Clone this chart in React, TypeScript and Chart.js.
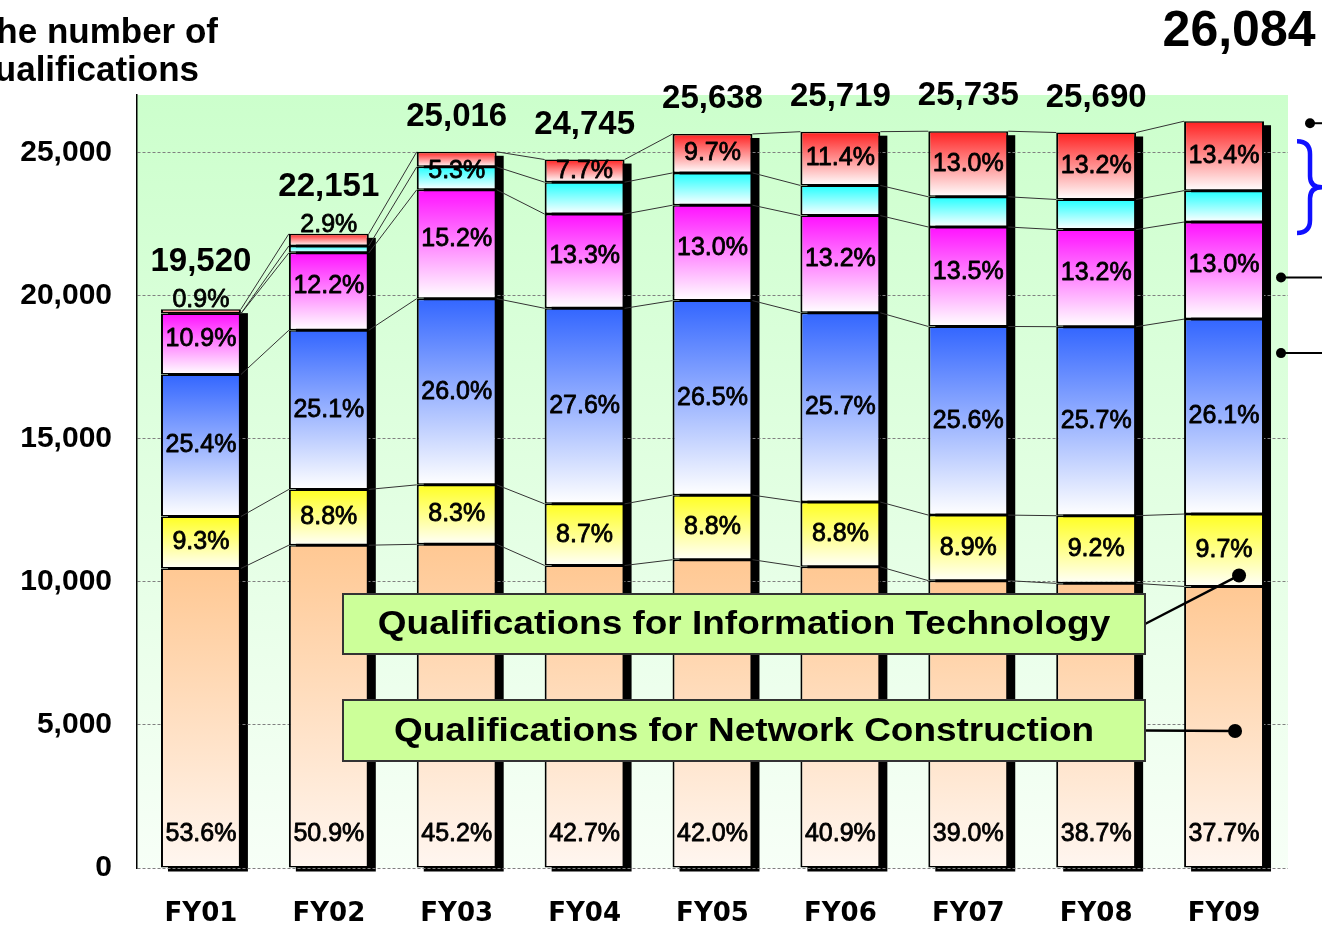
import React, { useEffect, useRef } from 'react';
import { Chart, registerables } from 'chart.js';

Chart.register(...registerables);

// ---------------- data ----------------
const categories = ['FY01', 'FY02', 'FY03', 'FY04', 'FY05', 'FY06', 'FY07', 'FY08', 'FY09'];
const totals = [19520, 22151, 25016, 24745, 25638, 25719, 25735, 25690, 26084];

// segment counts (bottom -> top)
const networkCounts = [10463, 11275, 11307, 10566, 10768, 10519, 10037, 9942, 9834];
const itCounts = [1815, 1949, 2076, 2153, 2256, 2263, 2290, 2363, 2530];
const blueCounts = [4958, 5560, 6504, 6830, 6794, 6610, 6588, 6602, 6808];
const magentaCounts = [2128, 2702, 3802, 3291, 3333, 3395, 3474, 3391, 3391];
const cyanCounts = [0, 244, 801, 1114, 1128, 1054, 1055, 1053, 1096];
const redCounts = [156, 421, 526, 791, 1359, 1878, 2291, 2339, 2425];

// share labels as printed
const networkPct = [53.6, 50.9, 45.2, 42.7, 42.0, 40.9, 39.0, 38.7, 37.7];
const itPct = [9.3, 8.8, 8.3, 8.7, 8.8, 8.8, 8.9, 9.2, 9.7];
const bluePct = [25.4, 25.1, 26.0, 27.6, 26.5, 25.7, 25.6, 25.7, 26.1];
const magentaPct = [10.9, 12.2, 15.2, 13.3, 13.0, 13.2, 13.5, 13.2, 13.0];
const topPct = [0.9, 2.9, 5.3, 7.7, 9.7, 11.4, 13.0, 13.2, 13.4];

const yTicks = [0, 5000, 10000, 15000, 20000, 25000];

const titleLines = ['The number of', 'qualifications'];
const legendIT = 'Qualifications for Information Technology';
const legendNC = 'Qualifications for Network Construction';

// ---------------- styles ----------------
const SEG_STYLES = [
  { top: '#FFC893', bottom: '#FFF6F0' },
  { top: '#FFFF22', bottom: '#FFFFF8' },
  { top: '#3366FF', bottom: '#FFFFFF' },
  { top: '#FF11FF', bottom: '#FFFFFF' },
  { top: '#22FFFF', bottom: '#FFFFFF' },
  { top: '#FF2020', bottom: '#FFFFFF' },
];

const NUM_FONT = '"Liberation Sans", Arial, sans-serif';

function segGradient(dsIndex: number) {
  return (c: any) => {
    const st = SEG_STYLES[dsIndex];
    const chart = c.chart;
    const ys = chart.scales && chart.scales.y;
    if (!ys || !chart.chartArea || c.dataIndex == null) return st.top;
    const dsets = chart.data.datasets;
    let start = 0;
    for (let k = 0; k < dsIndex; k++) start += Number(dsets[k].data[c.dataIndex]) || 0;
    const end = start + (Number(dsets[dsIndex].data[c.dataIndex]) || 0);
    const y0 = ys.getPixelForValue(end);
    const y1 = ys.getPixelForValue(start);
    if (!(y1 > y0 + 0.5)) return st.top;
    const g = chart.ctx.createLinearGradient(0, y0, 0, y1);
    g.addColorStop(0, st.top);
    g.addColorStop(1, st.bottom);
    return g;
  };
}

const fmtPct = (v: number) => v.toFixed(1) + '%';

function heavyText(ctx: any, text: string, x: number, y: number, w: number) {
  ctx.lineWidth = w;
  ctx.strokeStyle = '#000';
  ctx.lineJoin = 'round';
  ctx.strokeText(text, x, y);
  ctx.fillText(text, x, y);
}

// ---------------- plugins ----------------
const backgroundPlugin = {
  id: 'bgShadow',
  beforeDraw(chart: any) {
    const { ctx, chartArea: a } = chart;
    ctx.save();
    ctx.fillStyle = '#FFFFFF';
    ctx.fillRect(0, 0, chart.width, chart.height);
    const g = ctx.createLinearGradient(0, a.top, 0, a.bottom);
    g.addColorStop(0, '#CCFFCC');
    g.addColorStop(1, '#F7FFF7');
    ctx.fillStyle = g;
    ctx.fillRect(a.left, a.top, a.right - a.left, a.bottom - a.top);

    // drop shadows behind stacks
    const n = chart.data.labels.length;
    const metas = chart.data.datasets.map((_: any, i: number) => chart.getDatasetMeta(i));
    ctx.fillStyle = '#000000';
    for (let j = 0; j < n; j++) {
      const b = metas[0].data[j];
      if (!b) continue;
      let top = Infinity;
      metas.forEach((m: any) => {
        const el = m.data[j];
        if (el) top = Math.min(top, el.y);
      });
      const w = b.width;
      ctx.fillRect(b.x - w / 2 + 7, top + 4, w, b.base - top);
    }
    ctx.restore();
  },
};

const overlayPlugin = {
  id: 'overlay',
  afterDatasetsDraw(chart: any) {
    const { ctx } = chart;
    const n = chart.data.labels.length;
    const metas = chart.data.datasets.map((_: any, i: number) => chart.getDatasetMeta(i));
    ctx.save();
    // connector lines
    ctx.strokeStyle = '#333333';
    ctx.lineWidth = 1;
    metas.forEach((m: any) => {
      for (let j = 0; j < n - 1; j++) {
        const a = m.data[j];
        const b = m.data[j + 1];
        ctx.beginPath();
        ctx.moveTo(a.x + a.width / 2, a.y);
        ctx.lineTo(b.x - b.width / 2, b.y);
        ctx.stroke();
      }
    });

    // percentage labels
    ctx.fillStyle = '#000000';
    ctx.textAlign = 'center';
    ctx.textBaseline = 'middle';
    ctx.font = `25px ${NUM_FONT}`;
    const sw = 0.8;
    const aboveTop: boolean[] = [];
    for (let j = 0; j < n; j++) {
      const e0 = metas[0].data[j];
      const e1 = metas[1].data[j];
      const e2 = metas[2].data[j];
      const e3 = metas[3].data[j];
      const e4 = metas[4].data[j];
      const e5 = metas[5].data[j];
      heavyText(ctx, fmtPct(networkPct[j]), e0.x, e0.base - 33, sw);
      heavyText(ctx, fmtPct(itPct[j]), e1.x, (e1.y + e1.base) / 2, sw);
      heavyText(ctx, fmtPct(bluePct[j]), e2.x, (e2.y + e2.base) / 2, sw);
      heavyText(ctx, fmtPct(magentaPct[j]), e3.x, (e3.y + e3.base) / 2 - 5, sw);
      const redH = e5.base - e5.y;
      const combH = e4.base - e5.y;
      let ty: number;
      let above = false;
      if (redH >= 20) ty = (e5.y + e5.base) / 2;
      else if (combH >= 30) ty = (e5.y + e4.base) / 2;
      else {
        ty = e5.y - 9;
        above = true;
      }
      aboveTop.push(above);
      heavyText(ctx, fmtPct(topPct[j]), e5.x, ty, sw);
    }

    // totals
    for (let j = 0; j < n; j++) {
      const e5 = metas[5].data[j];
      const label = totals[j].toLocaleString('en-US');
      if (j === n - 1) {
        ctx.font = `bold 50px ${NUM_FONT}`;
        ctx.fillText(label, e5.x + 15, e5.y - 89);
      } else {
        ctx.font = `bold 33px ${NUM_FONT}`;
        ctx.fillText(label, e5.x, e5.y - (aboveTop[j] ? 47 : 35));
      }
    }
    ctx.restore();
  },
  afterDraw(chart: any) {
    const { ctx } = chart;
    const n = chart.data.labels.length;
    const metas = chart.data.datasets.map((_: any, i: number) => chart.getDatasetMeta(i));
    const last = n - 1;
    const eNet = metas[0].data[last];
    const eIT = metas[1].data[last];
    const eBlue = metas[2].data[last];
    const eMag = metas[3].data[last];
    const eCy = metas[4].data[last];
    const eRed = metas[5].data[last];
    const barRight = eRed.x + eRed.width / 2;
    ctx.save();

    // title (cut at left edge)
    ctx.fillStyle = '#000';
    ctx.font = `bold 35px ${NUM_FONT}`;
    ctx.textAlign = 'right';
    ctx.textBaseline = 'alphabetic';
    ctx.fillText(titleLines[0], 218, 43);
    ctx.fillText(titleLines[1], 199, 81);

    // legend boxes
    const boxes = [
      { text: legendIT, x: 343, y: 594, w: 802, h: 60, dot: { x: eIT.x + 15, y: eIT.base - 11 } },
      { text: legendNC, x: 343, y: 700, w: 802, h: 61, dot: { x: eNet.x + 11, y: 731 } },
    ];
    boxes.forEach((b) => {
      ctx.strokeStyle = '#000';
      ctx.lineWidth = 2.5;
      ctx.beginPath();
      ctx.moveTo(b.x + b.w, b.y + b.h / 2);
      ctx.lineTo(b.dot.x, b.dot.y);
      ctx.stroke();
      ctx.fillStyle = '#000';
      ctx.beginPath();
      ctx.arc(b.dot.x, b.dot.y, 7, 0, Math.PI * 2);
      ctx.fill();

      ctx.fillStyle = '#CCFF99';
      ctx.fillRect(b.x, b.y, b.w, b.h);
      ctx.strokeStyle = '#333';
      ctx.lineWidth = 2;
      ctx.strokeRect(b.x, b.y, b.w, b.h);
      ctx.fillStyle = '#000';
      ctx.font = `bold 33px ${NUM_FONT}`;
      ctx.textAlign = 'center';
      ctx.textBaseline = 'middle';
      ctx.save();
      ctx.translate(b.x + b.w / 2, b.y + b.h / 2 + 1);
      ctx.scale(1.12, 1);
      ctx.fillText(b.text, 0, 0);
      ctx.restore();
    });

    // right-side leaders (cut at right edge)
    const W = chart.width;
    const leaders = [
      { x: barRight + 46, y: eRed.y + 2 },
      { x: barRight + 17, y: (eMag.y + eMag.base) / 2 + 7 },
      { x: barRight + 17, y: eBlue.y + 34 },
    ];
    ctx.strokeStyle = '#000';
    ctx.fillStyle = '#000';
    ctx.lineWidth = 2;
    leaders.forEach((p) => {
      ctx.beginPath();
      ctx.moveTo(p.x, p.y);
      ctx.lineTo(W, p.y);
      ctx.stroke();
      ctx.beginPath();
      ctx.arc(p.x, p.y, 5, 0, Math.PI * 2);
      ctx.fill();
    });

    // blue brace grouping red + cyan
    const bTop = eRed.y + 20;
    const bBot = eCy.base + 11;
    const bMid = (bTop + bBot) / 2;
    const x0 = barRight + 33;
    const xs = barRight + 46;
    const xt = W;
    ctx.strokeStyle = '#1010FF';
    ctx.lineWidth = 4.5;
    ctx.beginPath();
    ctx.moveTo(x0, bTop);
    ctx.quadraticCurveTo(xs, bTop, xs, bTop + 13);
    ctx.lineTo(xs, bMid - 11);
    ctx.quadraticCurveTo(xs, bMid, xt, bMid);
    ctx.moveTo(xt, bMid);
    ctx.quadraticCurveTo(xs, bMid, xs, bMid + 11);
    ctx.lineTo(xs, bBot - 13);
    ctx.quadraticCurveTo(xs, bBot, x0, bBot);
    ctx.stroke();

    ctx.restore();
  },
};

const seriesData = [networkCounts, itCounts, blueCounts, magentaCounts, cyanCounts, redCounts];
const seriesNames = [
  'Qualifications for Network Construction',
  'Qualifications for Information Technology',
  'Series 3',
  'Series 4',
  'Series 5',
  'Series 6',
];

export default function App() {
  const canvasRef = useRef<HTMLCanvasElement | null>(null);

  useEffect(() => {
    if (!canvasRef.current) return;
    const chart = new Chart(canvasRef.current, {
      type: 'bar',
      data: {
        labels: categories,
        datasets: seriesData.map((d, i) => ({
          label: seriesNames[i],
          data: d,
          backgroundColor: segGradient(i),
          borderColor: '#000000',
          borderWidth: { left: 2, right: 2, top: 1.5, bottom: 1.5 },
          borderSkipped: false,
          barPercentage: 0.625,
          categoryPercentage: 1,
        })),
      },
      options: {
        responsive: false,
        animation: false,
        devicePixelRatio: 1,
        layout: { padding: { left: 0, top: 95, right: 34, bottom: 0 } },
        plugins: {
          legend: { display: false },
          tooltip: { enabled: false },
        },
        scales: {
          x: {
            stacked: true,
            grid: { display: false },
            border: { display: false },
            ticks: {
              color: '#000',
              padding: 23,
              maxRotation: 0,
              autoSkip: false,
              font: { family: '"DejaVu Sans", sans-serif', size: 26, weight: 'bold' },
            },
            afterFit: (s: any) => {
              s.height = 57;
            },
          },
          y: {
            stacked: true,
            min: 0,
            max: 27000,
            afterBuildTicks: (s: any) => {
              s.ticks = yTicks.map((v) => ({ value: v }));
            },
            grid: { color: '#808080', lineWidth: 1, drawTicks: false },
            border: { display: true, color: '#000', width: 1.5, dash: [3, 2] },
            ticks: {
              color: '#000',
              padding: 25,
              font: { family: NUM_FONT, size: 30, weight: 'bold' },
              callback: (v: any) => Number(v).toLocaleString('en-US'),
            },
            afterFit: (s: any) => {
              s.width = 137;
            },
          },
        },
      } as any,
      plugins: [backgroundPlugin, overlayPlugin],
    });
    return () => chart.destroy();
  }, []);

  return (
    <div style={{ position: 'absolute', left: 0, top: 0, width: 1322, height: 925 }}>
      <canvas ref={canvasRef} width={1322} height={925} style={{ display: 'block' }} />
    </div>
  );
}
